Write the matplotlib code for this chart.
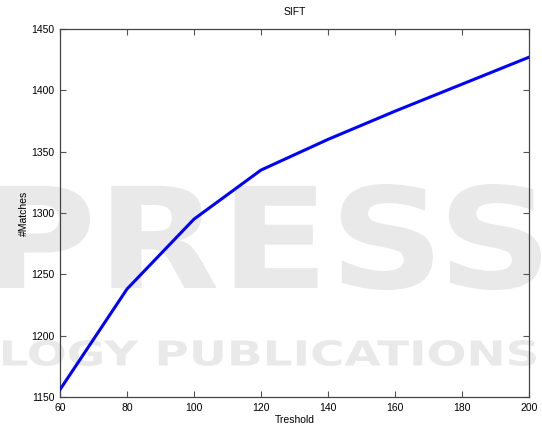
import numpy as np
import matplotlib.pyplot as plt
from matplotlib.textpath import TextPath
from matplotlib.patches import PathPatch
from matplotlib.font_manager import FontProperties
from matplotlib.transforms import Affine2D, IdentityTransform

plt.rcParams['font.family'] = ['Liberation Sans', 'DejaVu Sans']

# threshold vs number of SIFT matches
threshold = [60, 80, 100, 120, 140, 160, 180, 200]
matches = [1156, 1238, 1295, 1335, 1360, 1383, 1405, 1427]

W, H = 542, 429
fig = plt.figure(figsize=(W / 100, H / 100), dpi=100)
ax = fig.add_axes([0.1107, 0.0746, 0.8653, 0.8578])


def watermark(ax, s, x0, x1, ytop, ybot, color='#e9e9e9'):
    # stretch the text outline into a pixel box (top-left origin)
    tp = TextPath((0, 0), s, size=1,
                  prop=FontProperties(family='DejaVu Sans', weight='bold'))
    bb = tp.get_extents()
    sx = (x1 - x0) / bb.width
    sy = (ybot - ytop) / bb.height
    tr = (Affine2D().translate(-bb.x0, -bb.y0).scale(sx, sy)
          .translate(x0, H - ybot) + IdentityTransform())
    ax.add_patch(PathPatch(tp, transform=tr, facecolor=color,
                           edgecolor='none', zorder=0.5, clip_on=False))


watermark(ax, 'PRESS', -6, 541, 184, 290)
watermark(ax, 'LOGY PUBLICATIONS', 3, 536, 340, 366)

ax.plot(threshold, matches, color='#0000ff', lw=2.2, zorder=3)

ax.set_xlim(60, 200)
ax.set_ylim(1150, 1450)
ax.set_xticks(np.arange(60, 201, 20))
ax.set_yticks(np.arange(1150, 1451, 50))
ax.tick_params(direction='in', top=True, right=True, labelsize=7.5,
               length=4, width=0.8, color='#555555', pad=4)
for s in ax.spines.values():
    s.set_color('#444444')
    s.set_linewidth(0.9)

ax.set_title('SIFT', fontsize=7.5, pad=10)
ax.set_xlabel('Treshold', fontsize=7.5, labelpad=2)
ax.set_ylabel('#Matches', fontsize=7.5, labelpad=1.5)

fig.savefig('out.png', dpi=100)
